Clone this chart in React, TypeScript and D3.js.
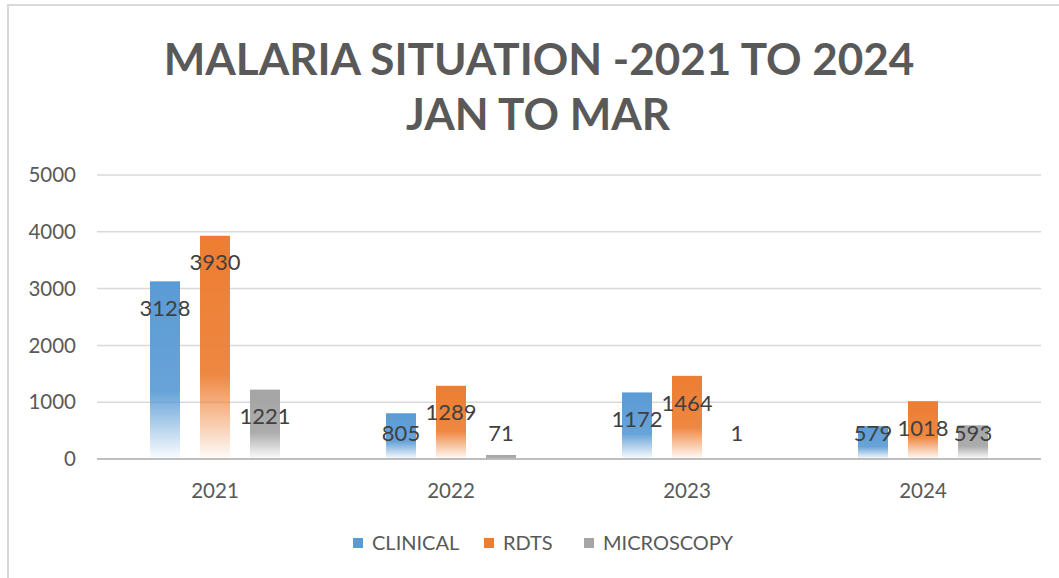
import React from 'react';
import * as d3 from 'd3';

const YEARS = ['2021', '2022', '2023', '2024'];
const SERIES = ['CLINICAL', 'RDTS', 'MICROSCOPY'];
const CLINICAL = [3128, 805, 1172, 579];
const RDTS = [3930, 1289, 1464, 1018];
const MICROSCOPY = [1221, 71, 1, 593];
const Y_TICKS = [0, 1000, 2000, 3000, 4000, 5000];

const COLORS: Record<string, string> = {
  CLINICAL: '#5b9bd5',
  RDTS: '#ed7d31',
  MICROSCOPY: '#a5a5a5',
};

const W = 1059;
const H = 578;
const LEFT = 97;
const RIGHT = 1041;
const TOP = 175;
const BOTTOM = 459;
const FONT = 'Lato, "Open Sans", sans-serif';

export default function App() {
  const values = [CLINICAL, RDTS, MICROSCOPY];

  const x = d3.scaleBand<string>().domain(YEARS).range([LEFT, RIGHT]);
  const y = d3.scaleLinear().domain([0, 5000]).range([BOTTOM, TOP]);
  const barW = 30;
  const gap = 20;
  const groupW = SERIES.length * barW + (SERIES.length - 1) * gap;
  const inner = d3.scaleBand<string>().domain(SERIES).range([0, groupW + gap]).paddingInner(0);

  const legendX = [353, 484, 584];

  return (
    <svg width={W} height={H} style={{ position: 'absolute', left: 0, top: 0, background: '#fff' }}>
      <defs>
        {SERIES.map((s) => (
          <linearGradient key={s} id={`grad-${s}`} x1="0" y1="0" x2="0" y2="1">
            <stop offset="0" stopColor={COLORS[s]} stopOpacity={1} />
            <stop offset="0.62" stopColor={COLORS[s]} stopOpacity={0.92} />
            <stop offset="1" stopColor={COLORS[s]} stopOpacity={0.02} />
          </linearGradient>
        ))}
      </defs>

      {/* chart border */}
      <rect x={8} y={5} width={W + 10} height={H + 10} fill="#fff" stroke="#d9d9d9" strokeWidth={2} />

      <text x={539} y={75} textAnchor="middle" fontFamily={FONT} fontWeight={700} fontSize={44} fill="#595959">
        MALARIA SITUATION -2021 TO 2024
      </text>
      <text x={538} y={130} textAnchor="middle" fontFamily={FONT} fontWeight={700} fontSize={44} fill="#595959">
        JAN TO MAR
      </text>

      {Y_TICKS.map((t) => (
        <g key={t}>
          <line
            x1={LEFT}
            x2={RIGHT}
            y1={y(t)}
            y2={y(t)}
            stroke={t === 0 ? '#bfbfbf' : '#d9d9d9'}
            strokeWidth={t === 0 ? 2 : 1.5}
          />
          <text x={76} y={y(t)} dy="0.35em" textAnchor="end" fontFamily={FONT} fontSize={20.5} fill="#595959">
            {t}
          </text>
        </g>
      ))}

      {YEARS.map((yr, i) => {
        const gx = (x(yr) ?? 0) + x.bandwidth() / 2 - groupW / 2;
        return (
          <g key={yr}>
            {SERIES.map((s, j) => {
              const v = values[j][i];
              const bx = gx + (inner(s) ?? 0);
              const top = y(v);
              const ly = Math.min(top + 27, BOTTOM - 26);
              return (
                <g key={s}>
                  <rect x={bx} y={top} width={barW} height={BOTTOM - top} fill={`url(#grad-${s})`} />
                  <text
                    x={bx + barW / 2}
                    y={ly}
                    dy="0.35em"
                    textAnchor="middle"
                    fontFamily={FONT}
                    fontSize={22}
                    fill="#404040"
                  >
                    {v}
                  </text>
                </g>
              );
            })}
            <text
              x={(x(yr) ?? 0) + x.bandwidth() / 2}
              y={491}
              dy="0.35em"
              textAnchor="middle"
              fontFamily={FONT}
              fontSize={20.5}
              fill="#595959"
            >
              {yr}
            </text>
          </g>
        );
      })}

      {SERIES.map((s, i) => (
        <g key={s} transform={`translate(${legendX[i]},543)`}>
          <rect x={0} y={-5} width={10} height={10} fill={COLORS[s]} />
          <text x={19} y={0} dy="0.35em" fontFamily={FONT} fontSize={20} fill="#595959">
            {s}
          </text>
        </g>
      ))}
    </svg>
  );
}
